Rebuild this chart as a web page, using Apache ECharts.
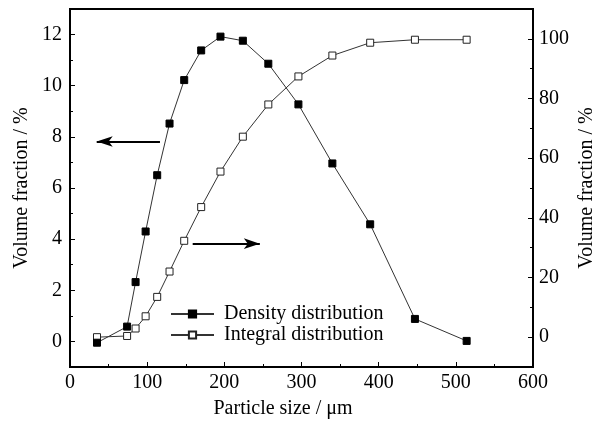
<!DOCTYPE html>
<html>
<head>
<meta charset="utf-8">
<script src="https://cdn.jsdelivr.net/npm/echarts@6/dist/echarts.min.js"></script>
<style>
  html, body { margin: 0; padding: 0; background: #fff; }
  #chart { width: 607px; height: 421px; }
</style>
</head>
<body>
<div id="chart"></div>
<script>
// particle size (um)
const sizes = [35, 74, 85, 98, 113, 129, 148, 170, 195, 224, 257, 296, 340, 389, 447, 514]
// density distribution, volume fraction %
const density = [-0.05, 0.58, 2.32, 4.30, 6.50, 8.52, 10.22, 11.38, 11.92, 11.76, 10.86, 9.27, 6.96, 4.58, 0.88, 0.02]
// integral distribution, volume fraction %
const integral = [0.0, 0.4, 2.9, 7.0, 13.5, 22.0, 32.3, 43.6, 55.5, 67.2, 78.0, 87.4, 94.4, 98.7, 99.7, 99.7]

// tick values
const leftTicks = [0, 2, 4, 6, 8, 10, 12]
const leftMinor = [1, 3, 5, 7, 9, 11]
const rightTicks = [0, 20, 40, 60, 80, 100]
const rightMinor = [10, 30, 50, 70, 90]

const FONT = 'Liberation Serif'
const textStyle = { fontFamily: FONT, fontSize: 20, color: '#000' }

const chart = echarts.init(document.getElementById('chart'))

function valueAxis(opt) {
  return Object.assign({
    type: 'value',
    nameMoveOverlap: false,
    splitLine: { show: false },
    axisLine: { show: true, onZero: false, lineStyle: { color: '#000', width: 2 } },
    axisTick: { show: true, inside: true, length: 5, lineStyle: { color: '#000', width: 1 } },
    axisLabel: Object.assign({ margin: 7 }, textStyle),
    nameTextStyle: textStyle,
  }, opt)
}

// axis used only to draw minor ticks
function minorAxis(position, min, max, values) {
  return {
    type: 'value',
    position,
    min,
    max,
    splitLine: { show: false },
    axisLine: { show: false },
    axisLabel: { show: false },
    axisTick: { show: true, inside: true, length: 3, customValues: values, lineStyle: { color: '#000', width: 1 } },
  }
}

const pts = (ys) => sizes.map((x, i) => [x, ys[i]])

chart.setOption({
  animation: false,
  backgroundColor: '#fff',
  grid: {
    left: 70, right: 74, top: 9, bottom: 54,
    outerBoundsMode: 'none',
    show: true, borderColor: '#000', borderWidth: 2,
  },
  legend: {
    left: 170, top: 304, padding: 0,
    orient: 'vertical',
    itemWidth: 43, itemHeight: 9, itemGap: 1,
    textStyle: Object.assign({ padding: [0, 0, 0, 5] }, textStyle),
    data: ['Density distribution', 'Integral distribution'],
  },
  xAxis: valueAxis({
    min: 0, max: 600, interval: 100,
    name: 'Particle size / μm',
    nameLocation: 'middle',
    nameGap: 32,
    nameTextStyle: Object.assign({ padding: [0, 37, 0, 0] }, textStyle),
    axisLabel: Object.assign({ margin: 6 }, textStyle),
    minorTick: { show: true, splitNumber: 2, length: 3, lineStyle: { color: '#000', width: 1 } },
  }),
  yAxis: [
    valueAxis({
      position: 'left', min: -1, max: 13,
      name: 'Volume fraction / %', nameLocation: 'middle', nameGap: 38,
      axisTick: { show: true, inside: true, length: 5, customValues: leftTicks, lineStyle: { color: '#000', width: 1 } },
      axisLabel: Object.assign({ margin: 8, customValues: leftTicks }, textStyle),
    }),
    valueAxis({
      position: 'right', min: -10, max: 110,
      name: 'Volume fraction / %', nameLocation: 'middle', nameGap: 44,
      axisTick: { show: true, inside: true, length: 5, customValues: rightTicks, lineStyle: { color: '#000', width: 1 } },
      axisLabel: Object.assign({ margin: 6, customValues: rightTicks }, textStyle),
    }),
    minorAxis('left', -1, 13, leftMinor),
    minorAxis('right', -10, 110, rightMinor),
  ],
  series: [
    {
      name: 'Integral distribution',
      type: 'line',
      yAxisIndex: 1,
      data: pts(integral),
      symbol: 'rect',
      symbolSize: 7,
      lineStyle: { color: '#333', width: 1 },
      itemStyle: { color: '#fff', borderColor: '#222', borderWidth: 1 },
      markLine: {
        silent: true,
        symbol: ['none', 'arrow'],
        symbolSize: [8, 16],
        label: { show: false },
        lineStyle: { color: '#000', width: 2, type: 'solid' },
        data: [[{ coord: [159, 31.35] }, { coord: [246, 31.35] }]],
      },
    },
    {
      name: 'Density distribution',
      type: 'line',
      yAxisIndex: 0,
      data: pts(density),
      symbol: 'rect',
      symbolSize: 7,
      lineStyle: { color: '#333', width: 1 },
      itemStyle: { color: '#000', borderColor: '#000', borderWidth: 1 },
      markLine: {
        silent: true,
        symbol: ['none', 'arrow'],
        symbolSize: [8, 16],
        label: { show: false },
        lineStyle: { color: '#000', width: 2, type: 'solid' },
        data: [[{ coord: [116.6, 7.82] }, { coord: [34.6, 7.82] }]],
      },
    },
  ],
})
</script>
</body>
</html>
